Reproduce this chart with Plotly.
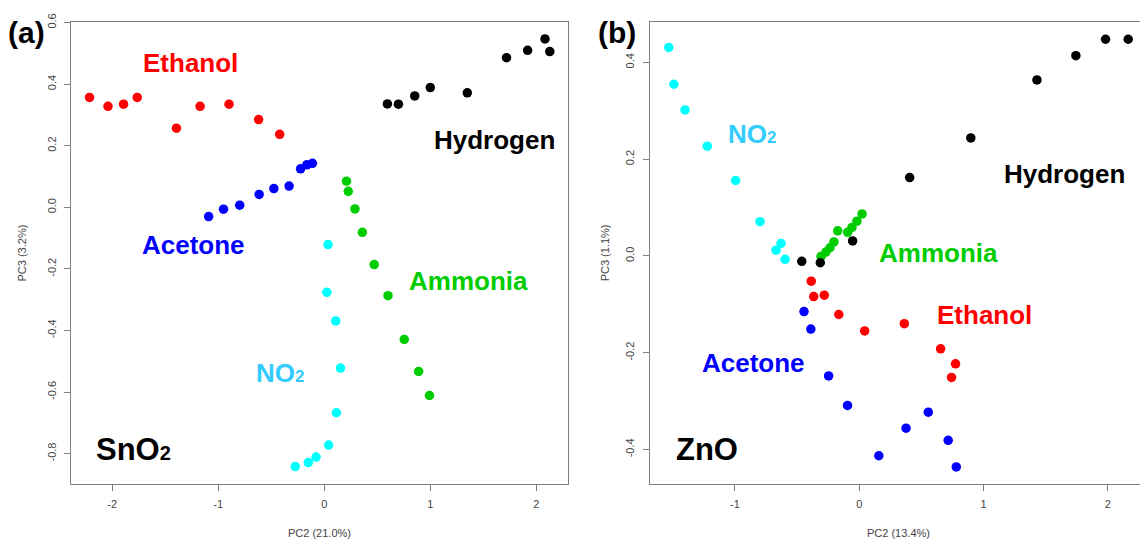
import plotly.graph_objects as go

W, H = 1140, 542

# ---------------- Panel (a): SnO2 ----------------
a_ethanol_x = [-2.214, -2.040, -1.893, -1.764, -1.394, -1.171, -0.898, -0.619, -0.420]
a_ethanol_y = [0.357, 0.328, 0.335, 0.357, 0.257, 0.328, 0.335, 0.285, 0.237]
a_hydrogen_x = [0.596, 0.700, 0.854, 1.001, 1.350, 1.720, 1.919, 2.083, 2.128]
a_hydrogen_y = [0.336, 0.335, 0.362, 0.389, 0.372, 0.486, 0.510, 0.547, 0.506]
a_acetone_x = [-1.090, -0.950, -0.797, -0.614, -0.475, -0.331, -0.223, -0.164, -0.111]
a_acetone_y = [-0.030, -0.006, 0.007, 0.042, 0.061, 0.069, 0.125, 0.138, 0.143]
a_ammonia_x = [0.210, 0.227, 0.290, 0.360, 0.472, 0.602, 0.755, 0.891, 0.993]
a_ammonia_y = [0.085, 0.052, -0.005, -0.081, -0.186, -0.287, -0.429, -0.533, -0.611]
a_no2_x = [0.036, 0.025, 0.109, 0.154, 0.115, 0.042, -0.077, -0.150, -0.273]
a_no2_y = [-0.121, -0.276, -0.369, -0.522, -0.667, -0.772, -0.811, -0.829, -0.842]

# ---------------- Panel (b): ZnO ----------------
b_no2_x = [-1.532, -1.491, -1.401, -1.222, -0.994, -0.798, -0.629, -0.669, -0.596]
b_no2_y = [0.431, 0.355, 0.302, 0.227, 0.156, 0.071, 0.026, 0.012, -0.007]
b_hydrogen_x = [-0.462, -0.313, -0.053, 0.406, 0.898, 1.430, 1.743, 1.982, 2.164]
b_hydrogen_y = [-0.011, -0.014, 0.031, 0.162, 0.244, 0.364, 0.414, 0.448, 0.448]
b_ammonia_x = [-0.307, -0.268, -0.235, -0.203, -0.173, -0.093, -0.058, -0.018, 0.023]
b_ammonia_y = [-0.001, 0.008, 0.017, 0.029, 0.052, 0.049, 0.059, 0.072, 0.087]
b_ethanol_x = [-0.386, -0.366, -0.281, -0.164, 0.044, 0.363, 0.655, 0.775, 0.743]
b_ethanol_y = [-0.052, -0.084, -0.081, -0.121, -0.155, -0.140, -0.192, -0.223, -0.251]
b_acetone_x = [-0.444, -0.389, -0.246, -0.094, 0.556, 0.377, 0.716, 0.158, 0.781]
b_acetone_y = [-0.115, -0.151, -0.248, -0.309, -0.323, -0.356, -0.381, -0.413, -0.436]

# tick labels
a_xticks = [-2, -1, 0, 1, 2]
a_xticktext = ["-2", "-1", "0", "1", "2"]
a_yticks = [-0.8, -0.6, -0.4, -0.2, 0.0, 0.2, 0.4, 0.6]
a_yticktext = ["-0.8", "-0.6", "-0.4", "-0.2", "0.0", "0.2", "0.4", "0.6"]
b_xticks = [-1, 0, 1, 2]
b_xticktext = ["-1", "0", "1", "2"]
b_yticks = [-0.4, -0.2, 0.0, 0.2, 0.4]
b_yticktext = ["-0.4", "-0.2", "0.0", "0.2", "0.4"]

SUB_NO2 = "NO<span style='font-size:17px'>2</span>"
SUB_SNO2 = "SnO<span style='font-size:20px'>2</span>"

# labels (text, x, y, color, size)
a_labels = [
    ("Ethanol", -1.261, 0.468, "#FF0000", 26),
    ("Hydrogen", 1.609, 0.218, "#000000", 26),
    ("Acetone", -1.23, -0.121, "#0000FF", 26),
    ("Ammonia", 1.365, -0.240, "#00CC00", 26),
    (SUB_NO2, -0.417, -0.537, "#33CCFF", 26),
    (SUB_SNO2, -1.80, -0.787, "#000000", 31),
]
b_labels = [
    (SUB_NO2, -0.866, 0.253, "#33CCFF", 26),
    ("Hydrogen", 1.648, 0.170, "#000000", 26),
    ("Ammonia", 0.636, 0.007, "#00CC00", 26),
    ("Ethanol", 1.012, -0.123, "#FF0000", 26),
    ("Acetone", -0.854, -0.221, "#0000FF", 26),
    ("ZnO", -1.225, -0.400, "#000000", 31),
]

COL = {"Ethanol": "#FF0000", "Hydrogen": "#000000", "Acetone": "#0000FF",
       "Ammonia": "#00CD00", "NO2": "#00FFFF"}
FONT = "Liberation Sans, Arial, sans-serif"

fig = go.Figure()


def add(xs, ys, col, xa, ya):
    fig.add_trace(go.Scatter(x=xs, y=ys, mode="markers", xaxis=xa, yaxis=ya,
                             marker=dict(size=9.5, color=col, line=dict(width=0)),
                             showlegend=False, hoverinfo="skip"))


add(a_ethanol_x, a_ethanol_y, COL["Ethanol"], "x", "y")
add(a_hydrogen_x, a_hydrogen_y, COL["Hydrogen"], "x", "y")
add(a_acetone_x, a_acetone_y, COL["Acetone"], "x", "y")
add(a_ammonia_x, a_ammonia_y, COL["Ammonia"], "x", "y")
add(a_no2_x, a_no2_y, COL["NO2"], "x", "y")

add(b_no2_x, b_no2_y, COL["NO2"], "x2", "y2")
add(b_ammonia_x, b_ammonia_y, COL["Ammonia"], "x2", "y2")
add(b_hydrogen_x, b_hydrogen_y, COL["Hydrogen"], "x2", "y2")
add(b_ethanol_x, b_ethanol_y, COL["Ethanol"], "x2", "y2")
add(b_acetone_x, b_acetone_y, COL["Acetone"], "x2", "y2")


def px(x):
    return x / W


def py(y):
    return 1 - y / H


AX = dict(showline=True, linecolor="#808080", linewidth=1.3, ticks="outside",
          ticklen=6, tickcolor="#808080", showgrid=False, zeroline=False,
          tickfont=dict(family=FONT, size=11, color="#444444"),
          ticklabelstandoff=4)

fig.update_layout(
    width=W, height=H,
    margin=dict(l=0, r=0, t=0, b=0),
    paper_bgcolor="white", plot_bgcolor="white",
    font=dict(family=FONT),
    xaxis=dict(AX, domain=[px(71.3), px(568)], range=[-2.386, 2.30], mirror=True,
               tickvals=a_xticks, ticktext=a_xticktext, anchor="y"),
    yaxis=dict(AX, domain=[py(483), py(14)], range=[-0.898, 0.6026], mirror=True,
               tickvals=a_yticks, ticktext=a_yticktext, tickangle=-90, anchor="x"),
    xaxis2=dict(AX, domain=[px(650), 1.0], range=[-1.683, 2.259], mirror=True,
                tickvals=b_xticks, ticktext=b_xticktext, anchor="y2"),
    yaxis2=dict(AX, domain=[py(483), py(14)], range=[-0.4711, 0.4841], mirror=False,
                tickvals=b_yticks, ticktext=b_yticktext, tickangle=-90, anchor="x2"),
)

ann = []
for t, x, y, c, s in a_labels:
    ann.append(dict(text=t, x=x, y=y, xref="x", yref="y", showarrow=False,
                    xanchor="center", yanchor="middle",
                    font=dict(family=FONT, size=s, color=c, weight="bold")))
for t, x, y, c, s in b_labels:
    ann.append(dict(text=t, x=x, y=y, xref="x2", yref="y2", showarrow=False,
                    xanchor="center", yanchor="middle",
                    font=dict(family=FONT, size=s, color=c, weight="bold")))


def paper_text(text, x, y, size, bold=False, angle=0, color="#444444"):
    f = dict(family=FONT, size=size, color=color)
    if bold:
        f["weight"] = "bold"
    return dict(text=text, x=px(x), y=py(y), xref="paper", yref="paper",
                showarrow=False, xanchor="center", yanchor="middle",
                textangle=angle, font=f)


ann.append(paper_text("(a)", 26.7, 25, 30, bold=True, color="black"))
ann.append(paper_text("(b)", 617, 25, 30, bold=True, color="black"))
ann.append(paper_text("PC3 (3.2%)", 21.7, 248.5, 11, angle=-90))
ann.append(paper_text("PC3 (1.1%)", 604.5, 248.5, 11, angle=-90))
ann.append(paper_text("PC2 (21.0%)", 319.7, 533, 11))
ann.append(paper_text("PC2 (13.4%)", 898, 533, 11))

fig.update_layout(annotations=ann)
fig.write_html("out.html")
